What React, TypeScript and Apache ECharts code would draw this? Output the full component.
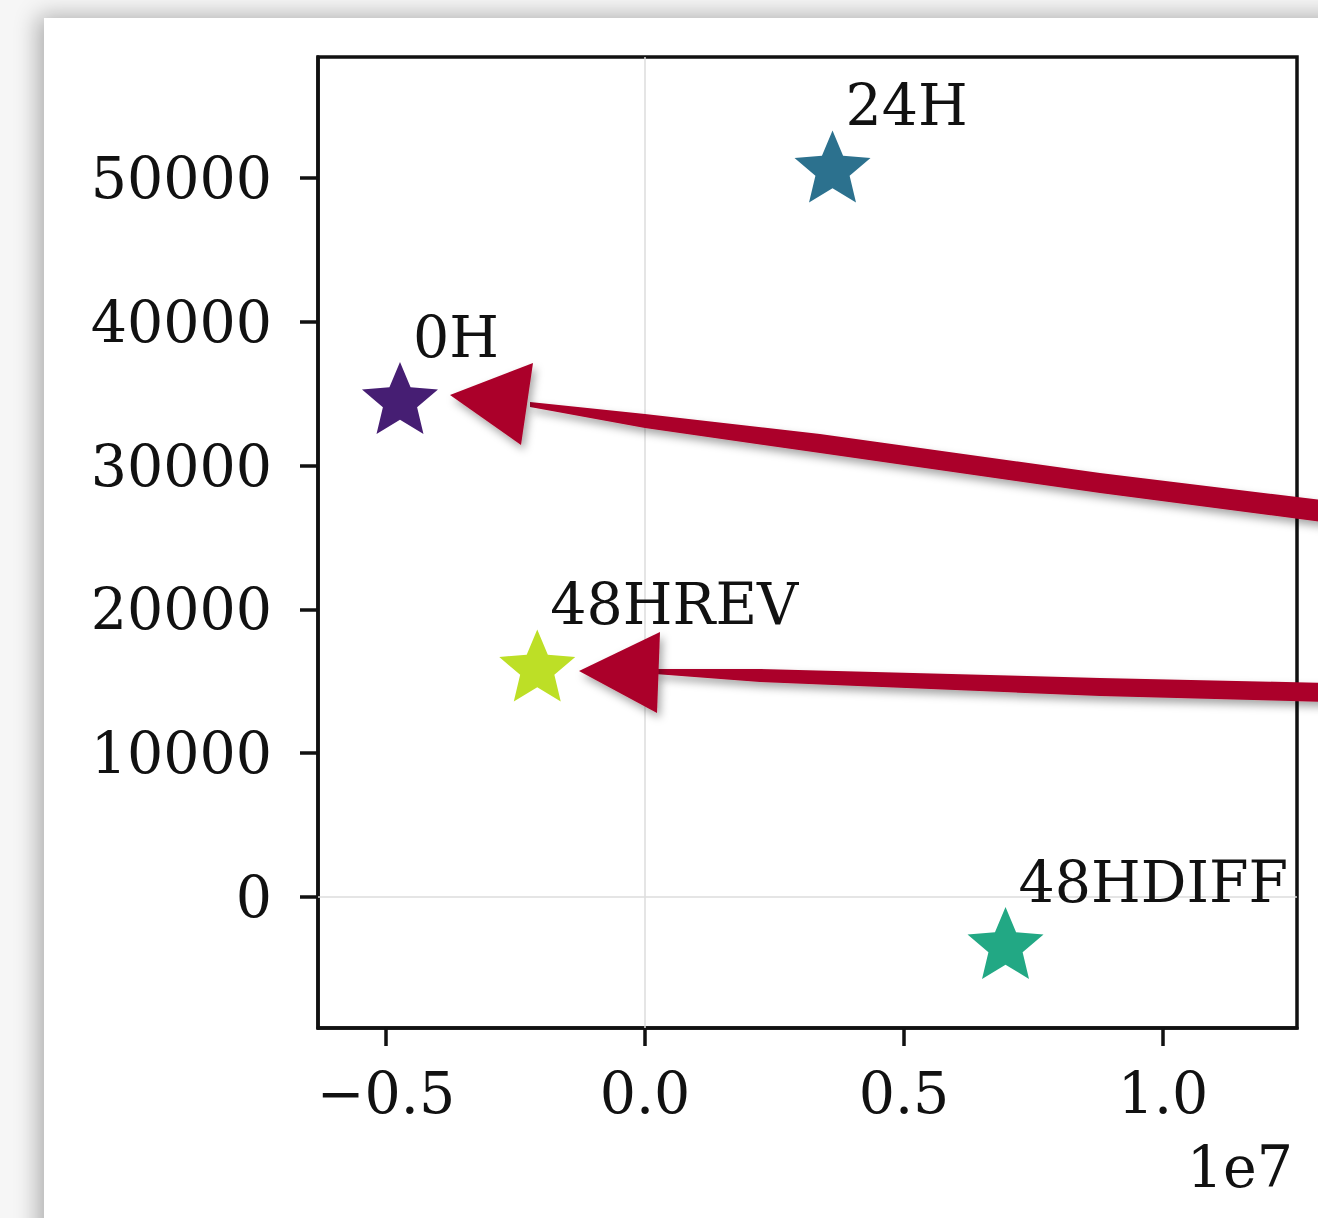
import React, { useEffect, useRef } from "react";
import * as echarts from "echarts";

// ---- data ----
const names = ["0H", "24H", "48HDIFF", "48HREV"];
const xValues = [-4.73e6, 3.62e6, 6.96e6, -2.08e6];
const yValues = [34700, 50800, -3200, 16100];
const colors = ["#461e73", "#2c718e", "#22a884", "#bddf26"];
const xTicks = [-0.5e7, 0, 0.5e7, 1.0e7];
const yTicks = [0, 10000, 20000, 30000, 40000, 50000];

const FONT = "DejaVu Serif";
const RED = "#ab0029";

function starPath(): string {
  const pts: string[] = [];
  const R = 100;
  const r = R * 0.45;
  for (let i = 0; i < 10; i++) {
    const a = -Math.PI / 2 + (i * Math.PI) / 5;
    const rad = i % 2 === 0 ? R : r;
    pts.push(`${(rad * Math.cos(a)).toFixed(2)} ${(rad * Math.sin(a)).toFixed(2)}`);
  }
  return "path://M" + pts.join(" L") + " Z";
}

export default function App() {
  const ref = useRef<HTMLDivElement>(null);
  useEffect(() => {
    if (!ref.current) return;
    const chart = echarts.init(ref.current, undefined, { renderer: "svg" });
    const shadow = {
      shadowBlur: 8,
      shadowOffsetX: 3,
      shadowOffsetY: 5,
      shadowColor: "rgba(0,0,0,0.35)",
    };
    chart.setOption({
      animation: false,
      backgroundColor: "transparent",
      textStyle: { fontFamily: FONT },
      grid: {
        left: 318,
        top: 57,
        width: 979,
        height: 971,
        show: true,
        borderColor: "#111",
        borderWidth: 3.5,
        backgroundColor: "transparent",
      },
      xAxis: {
        type: "value",
        min: -6.313e6,
        max: 1.2587e7,
        splitLine: { show: false },
        axisLine: { show: true, onZero: false, lineStyle: { color: "#111", width: 3.5 } },
        axisTick: {
          show: true,
          length: 18,
          lineStyle: { color: "#111", width: 3.5 },
          customValues: xTicks,
        },
        axisLabel: {
          customValues: xTicks,
          margin: 36,
          fontSize: 57,
          fontFamily: FONT,
          color: "#111",
          formatter: (v: number) => {
            const s = (Math.abs(v) / 1e7).toFixed(1);
            return v < 0 ? "\u2212" + s : s;
          },
        },
      },
      yAxis: {
        type: "value",
        min: -9110,
        max: 58414,
        splitLine: { show: false },
        axisLine: { show: true, onZero: false, lineStyle: { color: "#111", width: 3.5 } },
        axisTick: {
          show: true,
          length: 18,
          lineStyle: { color: "#111", width: 3.5 },
          customValues: yTicks,
        },
        axisLabel: {
          customValues: yTicks,
          margin: 46,
          fontSize: 57,
          fontFamily: FONT,
          color: "#111",
          formatter: (v: number) => String(v),
        },
      },
      series: [
        {
          type: "scatter",
          symbol: starPath(),
          symbolSize: [76, 72],
          z: 3,
          emphasis: { disabled: true },
          data: names.map((n, i) => ({
            name: n,
            value: [xValues[i], yValues[i]],
            itemStyle: { color: colors[i], opacity: 1 },
          })),
          label: {
            show: true,
            formatter: "{b}",
            position: [51, -25],
            align: "left",
            verticalAlign: "middle",
            fontSize: 57,
            fontFamily: FONT,
            color: "#111",
            opacity: 1,
          },
          markLine: {
            silent: true,
            symbol: "none",
            label: { show: false },
            lineStyle: { color: "#dddddd", width: 1.5, type: "solid", opacity: 1 },
            data: [{ xAxis: 0 }, { yAxis: 0 }],
            z: 1,
          },
        },
      ],
      graphic: [
        {
          type: "text",
          right: 1318 - 1293,
          top: 1138,
          z: 50,
          style: { text: "1e7", font: `57px "${FONT}"`, fill: "#111" },
        },
        // arrow 1 shaft
        {
          type: "polygon",
          z: 100,
          shape: {
            points: [
              [530, 402], [645, 414], [820, 434], [1100, 473], [1330, 501],
              [1330, 523], [1100, 493], [820, 453], [645, 428], [530, 407],
            ],
          },
          style: { fill: RED, ...shadow },
        },
        // arrow 1 head
        {
          type: "polygon",
          z: 101,
          shape: { points: [[450, 395], [533, 363], [521, 445]] },
          style: { fill: RED, ...shadow },
        },
        // arrow 2 shaft
        {
          type: "polygon",
          z: 100,
          shape: {
            points: [
              [655, 669], [760, 669], [1100, 678], [1330, 683],
              [1330, 702], [1100, 696], [760, 682], [655, 674],
            ],
          },
          style: { fill: RED, ...shadow },
        },
        // arrow 2 head
        {
          type: "polygon",
          z: 101,
          shape: { points: [[579, 671], [660, 632], [657, 713]] },
          style: { fill: RED, ...shadow },
        },
      ],
    });
    return () => chart.dispose();
  }, []);

  return (
    <div
      style={{
        position: "fixed",
        left: 0,
        top: 0,
        width: 1318,
        height: 1218,
        overflow: "hidden",
        background: "#f6f6f6",
      }}
    >
      <div
        style={{
          position: "absolute",
          left: 44,
          top: 18,
          width: 1400,
          height: 1300,
          background: "#ffffff",
          boxShadow: "-6px -2px 22px rgba(0,0,0,0.3)",
        }}
      />
      <div
        ref={ref}
        style={{ position: "absolute", left: 0, top: 0, width: 1318, height: 1218 }}
      />
    </div>
  );
}
